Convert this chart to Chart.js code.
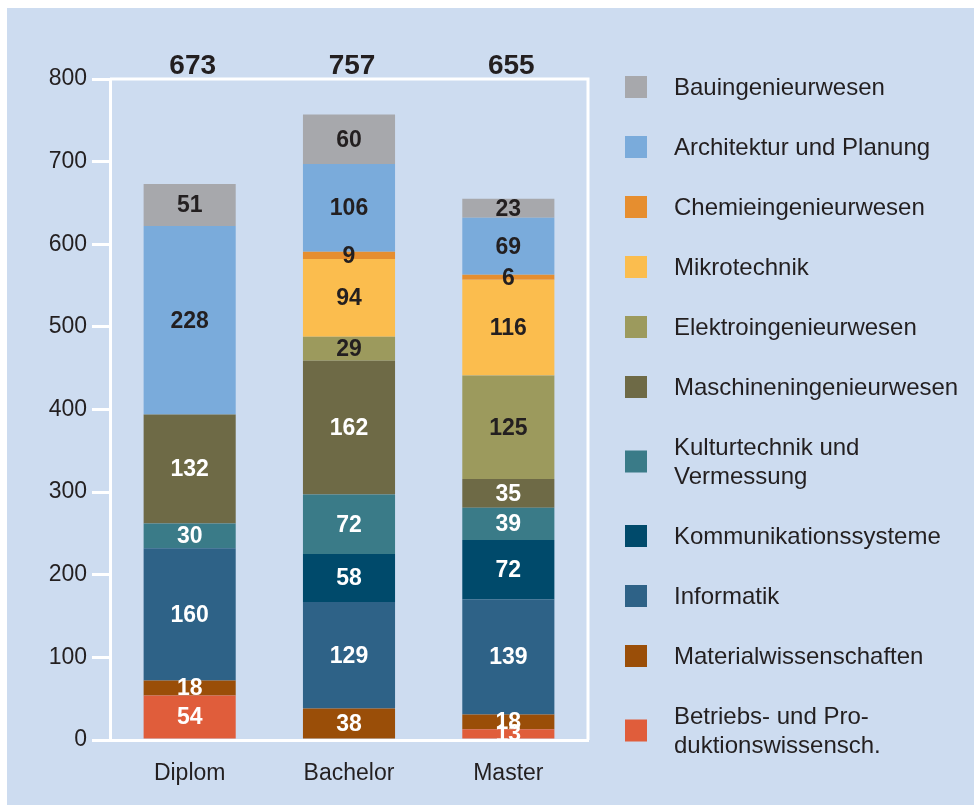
<!DOCTYPE html>
<html>
<head>
<meta charset="utf-8">
<script src="https://cdn.jsdelivr.net/npm/chart.js@4"></script>
<style>
  html, body { margin: 0; padding: 0; background: #ffffff; }
  #wrap { width: 974px; height: 805px; position: relative; }
  canvas { display: block; }
</style>
</head>
<body>
<div id="wrap"><canvas id="c" width="974" height="805"></canvas></div>
<script>
// ---- data ----
const categories = ['Diplom', 'Bachelor', 'Master'];
const yTicks = [0, 100, 200, 300, 400, 500, 600, 700, 800];

// series, bottom of stack first
const seriesNames = [
  'Betriebs- und Pro-\nduktionswissensch.',
  'Materialwissenschaften',
  'Informatik',
  'Kommunikationssysteme',
  'Kulturtechnik und\nVermessung',
  'Maschineningenieurwesen',
  'Elektroingenieurwesen',
  'Mikrotechnik',
  'Chemieingenieurwesen',
  'Architektur und Planung',
  'Bauingenieurwesen'
];
const betriebs      = [54, 0, 13];
const material      = [18, 38, 18];
const informatik    = [160, 129, 139];
const kommunikation = [0, 58, 72];
const kultur        = [30, 72, 39];
const maschinen     = [132, 162, 35];
const elektro       = [0, 29, 125];
const mikro         = [0, 94, 116];
const chemie        = [0, 9, 6];
const architektur   = [228, 106, 69];
const bau           = [51, 60, 23];
const seriesValues = [betriebs, material, informatik, kommunikation, kultur, maschinen, elektro, mikro, chemie, architektur, bau];

// ---- styles ----
const seriesColors = ['#e05d3b', '#9a4e08', '#2e6287', '#004a6b', '#3a7b88', '#6e6a46', '#9c9a5d', '#fbbd4e', '#e68e2f', '#7aabdb', '#a7a8ac'];
const labelColors  = ['#ffffff', '#ffffff', '#ffffff', '#ffffff', '#ffffff', '#ffffff', '#231f20', '#231f20', '#231f20', '#231f20', '#231f20'];
const TEXT = '#231f20';
const BG = '#cddcf0';
const FONT = '"Liberation Sans", Arial, Helvetica, sans-serif';

Chart.defaults.font.family = FONT;
Chart.defaults.color = TEXT;

const bgPlugin = {
  id: 'bg',
  beforeDraw(chart) {
    const ctx = chart.ctx;
    ctx.save();
    ctx.fillStyle = '#ffffff';
    ctx.fillRect(0, 0, chart.width, chart.height);
    ctx.fillStyle = BG;
    ctx.fillRect(7, 8, chart.width - 7, chart.height - 8);
    ctx.restore();
  },
  beforeDatasetsDraw(chart) {
    const {ctx, chartArea: a} = chart;
    ctx.save();
    ctx.strokeStyle = '#ffffff';
    ctx.lineWidth = 3;
    ctx.beginPath();
    ctx.moveTo(a.left, a.top);
    ctx.lineTo(a.right, a.top);
    ctx.lineTo(a.right, a.bottom);
    ctx.stroke();
    ctx.restore();
  }
};

const labelPlugin = {
  id: 'segLabels',
  afterDatasetsDraw(chart) {
    const ctx = chart.ctx;
    ctx.save();
    ctx.font = 'bold 23px ' + FONT;
    ctx.textAlign = 'center';
    ctx.textBaseline = 'middle';
    chart.data.datasets.forEach((ds, i) => {
      const meta = chart.getDatasetMeta(i);
      meta.data.forEach((el, j) => {
        const v = ds.data[j];
        if (!v) return;
        ctx.fillStyle = labelColors[i];
        ctx.fillText(String(v), el.x, (el.y + el.base) / 2 + 1);
      });
    });
    // totals
    ctx.font = 'bold 28px ' + FONT;
    ctx.fillStyle = TEXT;
    ctx.textBaseline = 'alphabetic';
    const lastMeta = chart.getDatasetMeta(chart.data.datasets.length - 1);
    categories.forEach((c, j) => {
      let sum = 0;
      chart.data.datasets.forEach(ds => { sum += ds.data[j]; });
      ctx.fillText(String(sum), lastMeta.data[j].x + 3, chart.chartArea.top - 5);
    });
    ctx.restore();
  }
};

const legendPlugin = {
  id: 'sideLegend',
  afterDraw(chart) {
    const ctx = chart.ctx;
    ctx.save();
    ctx.font = '24px ' + FONT;
    ctx.textBaseline = 'middle';
    ctx.textAlign = 'left';
    let cursor = 57;
    const lineH = 29;
    for (let i = chart.data.datasets.length - 1; i >= 0; i--) {
      const ds = chart.data.datasets[i];
      const lines = ds.label.split('\n');
      const h = 60 + (lines.length - 1) * lineH;
      const cy = cursor + h / 2;
      ctx.fillStyle = ds.backgroundColor;
      ctx.fillRect(625, cy - 11, 22, 22);
      ctx.fillStyle = TEXT;
      const startY = cy - (lines.length - 1) * lineH / 2;
      lines.forEach((ln, k) => ctx.fillText(ln, 674, startY + k * lineH + 1));
      cursor += h;
    }
    ctx.restore();
  }
};

new Chart(document.getElementById('c'), {
  type: 'bar',
  data: {
    labels: categories,
    datasets: seriesNames.map((name, i) => ({
      label: name,
      data: seriesValues[i],
      backgroundColor: seriesColors[i],
      borderWidth: 0,
      categoryPercentage: 1,
      barPercentage: 0.578
    }))
  },
  options: {
    responsive: false,
    animation: false,
    devicePixelRatio: 1,
    layout: { padding: { left: 0, top: 79, right: 386, bottom: 0 } },
    plugins: { legend: { display: false }, tooltip: { enabled: false } },
    scales: {
      x: {
        stacked: true,
        grid: { display: false },
        border: { display: true, color: '#ffffff', width: 3 },
        ticks: { color: TEXT, font: { size: 23 }, padding: 12 },
        afterFit(s) { s.height = 65; }
      },
      y: {
        stacked: true,
        min: 0,
        max: 800,
        afterBuildTicks(s) { s.ticks = yTicks.map(v => ({ value: v })); },
        grid: { drawOnChartArea: false, drawTicks: true, tickLength: 18, color: '#ffffff', lineWidth: 3 },
        border: { display: true, color: '#ffffff', width: 3 },
        ticks: { color: TEXT, font: { size: 23 }, padding: 5 },
        afterFit(s) { s.width = 110; }
      }
    }
  },
  plugins: [bgPlugin, labelPlugin, legendPlugin]
});
</script>
</body>
</html>
